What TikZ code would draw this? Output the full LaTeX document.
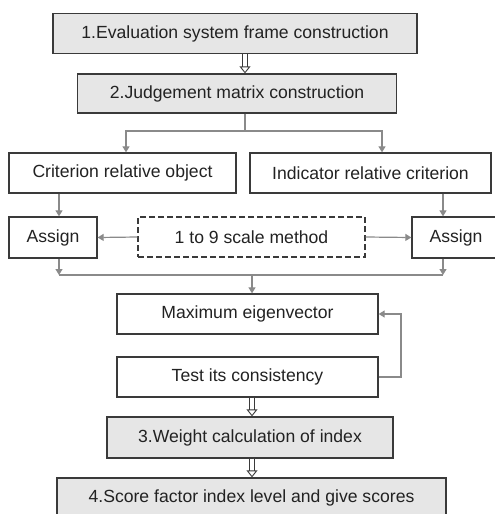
\documentclass[tikz,border=0pt]{standalone}
\usepackage{fontspec}
\setmainfont{Liberation Sans}
\usetikzlibrary{arrows.meta, positioning, calc}
\definecolor{boxgray}{HTML}{E6E6E6}
\definecolor{edgegray}{HTML}{3A3A3A}
\definecolor{linegray}{HTML}{8A8A8A}
\definecolor{textgray}{HTML}{222222}

\begin{document}
\begin{tikzpicture}[x=1pt, y=-1pt, font=\fontsize{17.6}{20}\selectfont,
  box/.style={draw=edgegray, line width=1.3pt, text=textgray, inner sep=0pt, minimum height=40pt},
  stepbox/.style={box, fill=boxgray},
  plain/.style={linegray, line width=1.2pt},
  link/.style={plain, -{Triangle[length=6pt,width=7pt]}},
  bigarrow/.style={draw=edgegray, line width=0.9pt, double=white, double distance=4pt,
    -{Triangle[open, length=7pt, width=11pt]}}]
  \useasboundingbox (0,0) rectangle (495,514);

  % steps and boxes
  \node[stepbox, minimum width=364pt] (frame) at (235,33.5) {1.Evaluation system frame construction};
  \node[stepbox, minimum width=319pt, minimum height=39pt] (matrix) at (237,93.5) {2.Judgement matrix construction};
  \node[box, minimum width=227pt] (crit) at (122.5,173) {Criterion relative object};
  \node[box, minimum width=241pt] (ind) at (370.5,173) {Indicator relative criterion};
  \node[box, minimum width=88pt, minimum height=41pt] (assignL) at (53,237.5) {Assign};
  \node[box, dashed, dash pattern=on 6pt off 3pt, minimum width=227pt] (scale) at (251.5,237) {1 to 9 scale method};
  \node[box, minimum width=88pt, minimum height=41pt] (assignR) at (456,237.5) {Assign};
  \node[box, minimum width=261pt] (eigen) at (247.5,314) {Maximum eigenvector};
  \node[box, minimum width=261pt] (test) at (247.5,377) {Test its consistency};
  \node[stepbox, minimum width=286pt, minimum height=41pt] (weight) at (250,437.5) {3.Weight calculation of index};
  \node[stepbox, minimum width=389pt] (score) at (251.5,498) {4.Score factor index level and give scores};

  % helper points
  \coordinate (spine) at (245,0);
  \coordinate (split) at (245,131);
  \coordinate (critin) at (126,0);
  \coordinate (indin) at (382,0);
  \coordinate (leftdrop) at (59,0);
  \coordinate (rightdrop) at (443,0);
  \coordinate (joinL) at (59,275);
  \coordinate (joinR) at (443,275);
  \coordinate (join) at (252,275);
  \coordinate (loop) at (401,0);
  \coordinate (stem) at (252,0);

  % connectors
  \draw[bigarrow] (frame.south -| spine) -- (matrix.north -| spine);
  \draw[plain] (matrix.south -| spine) -- (split);
  \draw[link] (split) -| (crit.north -| critin);
  \draw[link] (split) -| (ind.north -| indin);
  \draw[link] (crit.south -| leftdrop) -- (assignL.north -| leftdrop);
  \draw[link] (ind.south -| rightdrop) -- (assignR.north -| rightdrop);
  \draw[link] (scale.west) -- (assignL.east);
  \draw[link] (scale.east) -- (assignR.west);
  \draw[link] (assignL.south -| joinL) -- (joinL);
  \draw[link] (assignR.south -| joinR) -- (joinR);
  \draw[plain] (joinL) -- (joinR);
  \draw[link] (join) -- (eigen.north -| join);
  \draw[link] (test.east) -- (test.east -| loop) -- (eigen.east -| loop) -- (eigen.east);
  \draw[bigarrow] (test.south -| stem) -- (weight.north -| stem);
  \draw[bigarrow] (weight.south -| stem) -- (score.north -| stem);
\end{tikzpicture}
\end{document}
